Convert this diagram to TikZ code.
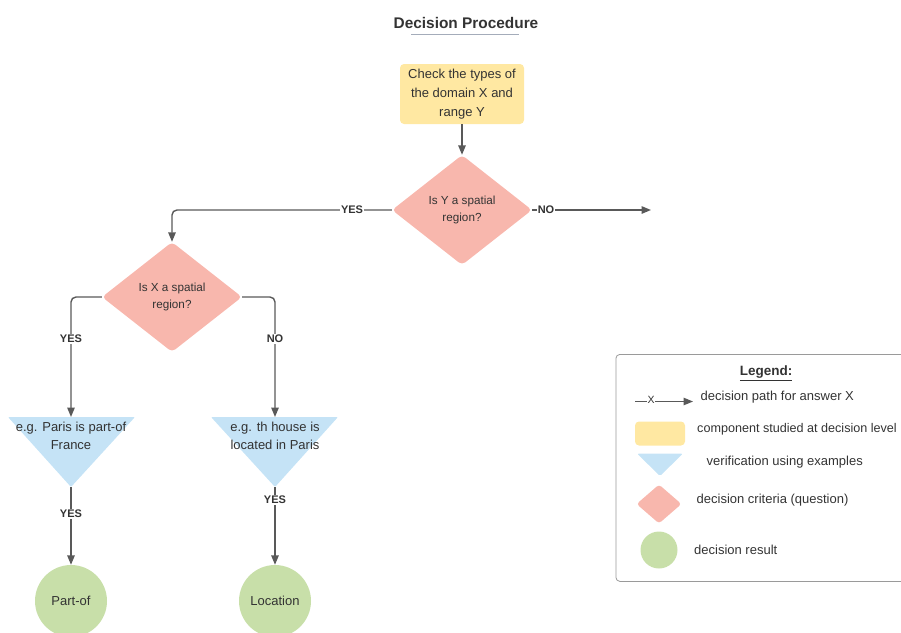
\documentclass[tikz,border=0pt]{standalone}
\usepackage{fontspec}
\setmainfont{Liberation Sans}
\usetikzlibrary{arrows.meta,shapes.geometric}
\definecolor{ln}{HTML}{595959}
\definecolor{tx}{HTML}{333333}
\definecolor{yel}{HTML}{FFE8A2}
\definecolor{pnk}{HTML}{F8B7AD}
\definecolor{blu}{HTML}{C5E3F6}
\definecolor{grn}{HTML}{C8DFA9}
\definecolor{ttl}{HTML}{A4ACBA}
\definecolor{frm}{HTML}{9A9A9A}
\begin{document}
\begin{tikzpicture}[x=1pt,y=-1pt,
  every node/.style={text=tx},
  conn/.style={draw=ln, line width=1.4pt},
  arr/.style={conn, -{Triangle[length=9.5pt,width=7.5pt]}},
  lbl/.style={fill=white, font=\bfseries\fontsize{11}{13}\selectfont, inner sep=1pt},
  startbox/.style={rectangle, fill=yel, rounded corners=4pt, minimum width=124pt, minimum height=60pt, inner sep=0pt, align=center, font=\fontsize{13}{19}\selectfont},
  dia/.style={diamond, fill=pnk, minimum width=140pt, minimum height=110pt, inner sep=0pt, rounded corners=4pt, align=center, font=\fontsize{11.7}{17.5}\selectfont},
  res/.style={circle, fill=grn, minimum size=72pt, inner sep=0pt, font=\fontsize{13}{15}\selectfont},
  extext/.style={align=center, inner sep=0pt, font=\fontsize{13}{18.5}\selectfont},
  leg/.style={anchor=west, inner sep=0pt, font=\fontsize{13}{15}\selectfont}]
\useasboundingbox (0,0) rectangle (901,632);
\clip (0,0) rectangle (901,632);

% title
\node[font=\bfseries\fontsize{15.4}{18}\selectfont] (title) at (466,23) {Decision Procedure};
\draw[ttl, line width=1pt] (411,34) -- (519,34);

% main nodes
\node[startbox] (start) at (462,94) {Check the types of\\the domain X and\\range Y};
\node[dia] (d1) at (462,210) {Is Y a spatial\\region?};
\node[dia] (d2) at (172,297) {Is X a spatial\\region?};

% triangles
\coordinate (t1top) at (71,417);
\coordinate (t1tip) at (71,487);
\coordinate (t2top) at (275,417);
\coordinate (t2tip) at (275,487);
\fill[blu, rounded corners=1pt] (8,417) -- (135,417) -- (t1tip) -- cycle;
\fill[blu, rounded corners=1pt] (211,417) -- (338,417) -- (t2tip) -- cycle;
\node[extext] (t1) at (71,436) {e.g. Paris is part-of\\France};
\node[extext] (t2) at (275,436) {e.g. th house is\\located in Paris};

% results
\node[res] (r1) at (71,601) {Part-of};
\node[res] (r2) at (275,601) {Location};

% connectors
\coordinate (noend) at (651,210);
\draw[arr] (start.south) -- (d1.north);
\draw[arr, rounded corners=5pt] (d1.west) -- (d1.west -| d2.north) -- (d2.north);
\node[lbl] (yes1) at (352,210) {YES};
\draw[arr] (d1.east) -- (noend);
\node[lbl] (no1) at (546,210) {NO};
\draw[arr, rounded corners=5pt] (d2.west) -- (d2.west -| t1top) -- (t1top);
\node[lbl] (yes2) at (71,339) {YES};
\draw[arr, rounded corners=5pt] (d2.east) -- (d2.east -| t2top) -- (t2top);
\node[lbl] (no2) at (275,339) {NO};
\draw[arr] (t1tip) -- (r1.north);
\node[lbl] (yes3) at (71,514) {YES};
\draw[arr] (t2tip) -- (r2.north);
\node[lbl] (yes4) at (275,500) {YES};

% legend
\node[draw=frm, line width=0.8pt, rounded corners=4pt, minimum width=310pt, minimum height=227pt, anchor=north west, inner sep=0pt] (legend) at (615.5,354) {};
\node[font=\bfseries\fontsize{13.5}{16}\selectfont] (legtitle) at (766,373) {\underline{Legend:}};
\coordinate (la) at (635,401.5);
\coordinate (lb) at (693,401.5);
\draw[arr, line width=1.2pt] (la) -- (lb);
\node[fill=white, inner sep=0.3pt, font=\fontsize{10.5}{12}\selectfont] (lx) at (651,400) {X};
\node[leg] (l1) at (700.5,397) {decision path for answer X};
\node[rectangle, fill=yel, rounded corners=4pt, minimum width=50pt, minimum height=24pt, inner sep=0pt] (lyel) at (660,433.5) {};
\node[leg, font=\fontsize{12.6}{15}\selectfont] (l2) at (697,429.5) {component studied at decision level};
\fill[blu, rounded corners=1.5pt] (637,453.5) -- (683,453.5) -- (660,476) -- cycle;
\node[leg] (l3) at (706.5,462) {verification using examples};
\node[diamond, fill=pnk, minimum width=45pt, minimum height=39pt, inner sep=0pt, rounded corners=3pt] (ldia) at (659,504) {};
\node[leg] (l4) at (696.5,500) {decision criteria (question)};
\node[circle, fill=grn, minimum size=37pt, inner sep=0pt] (lcirc) at (659,550) {};
\node[leg] (l5) at (694,549.5) {decision result};
\end{tikzpicture}
\end{document}
